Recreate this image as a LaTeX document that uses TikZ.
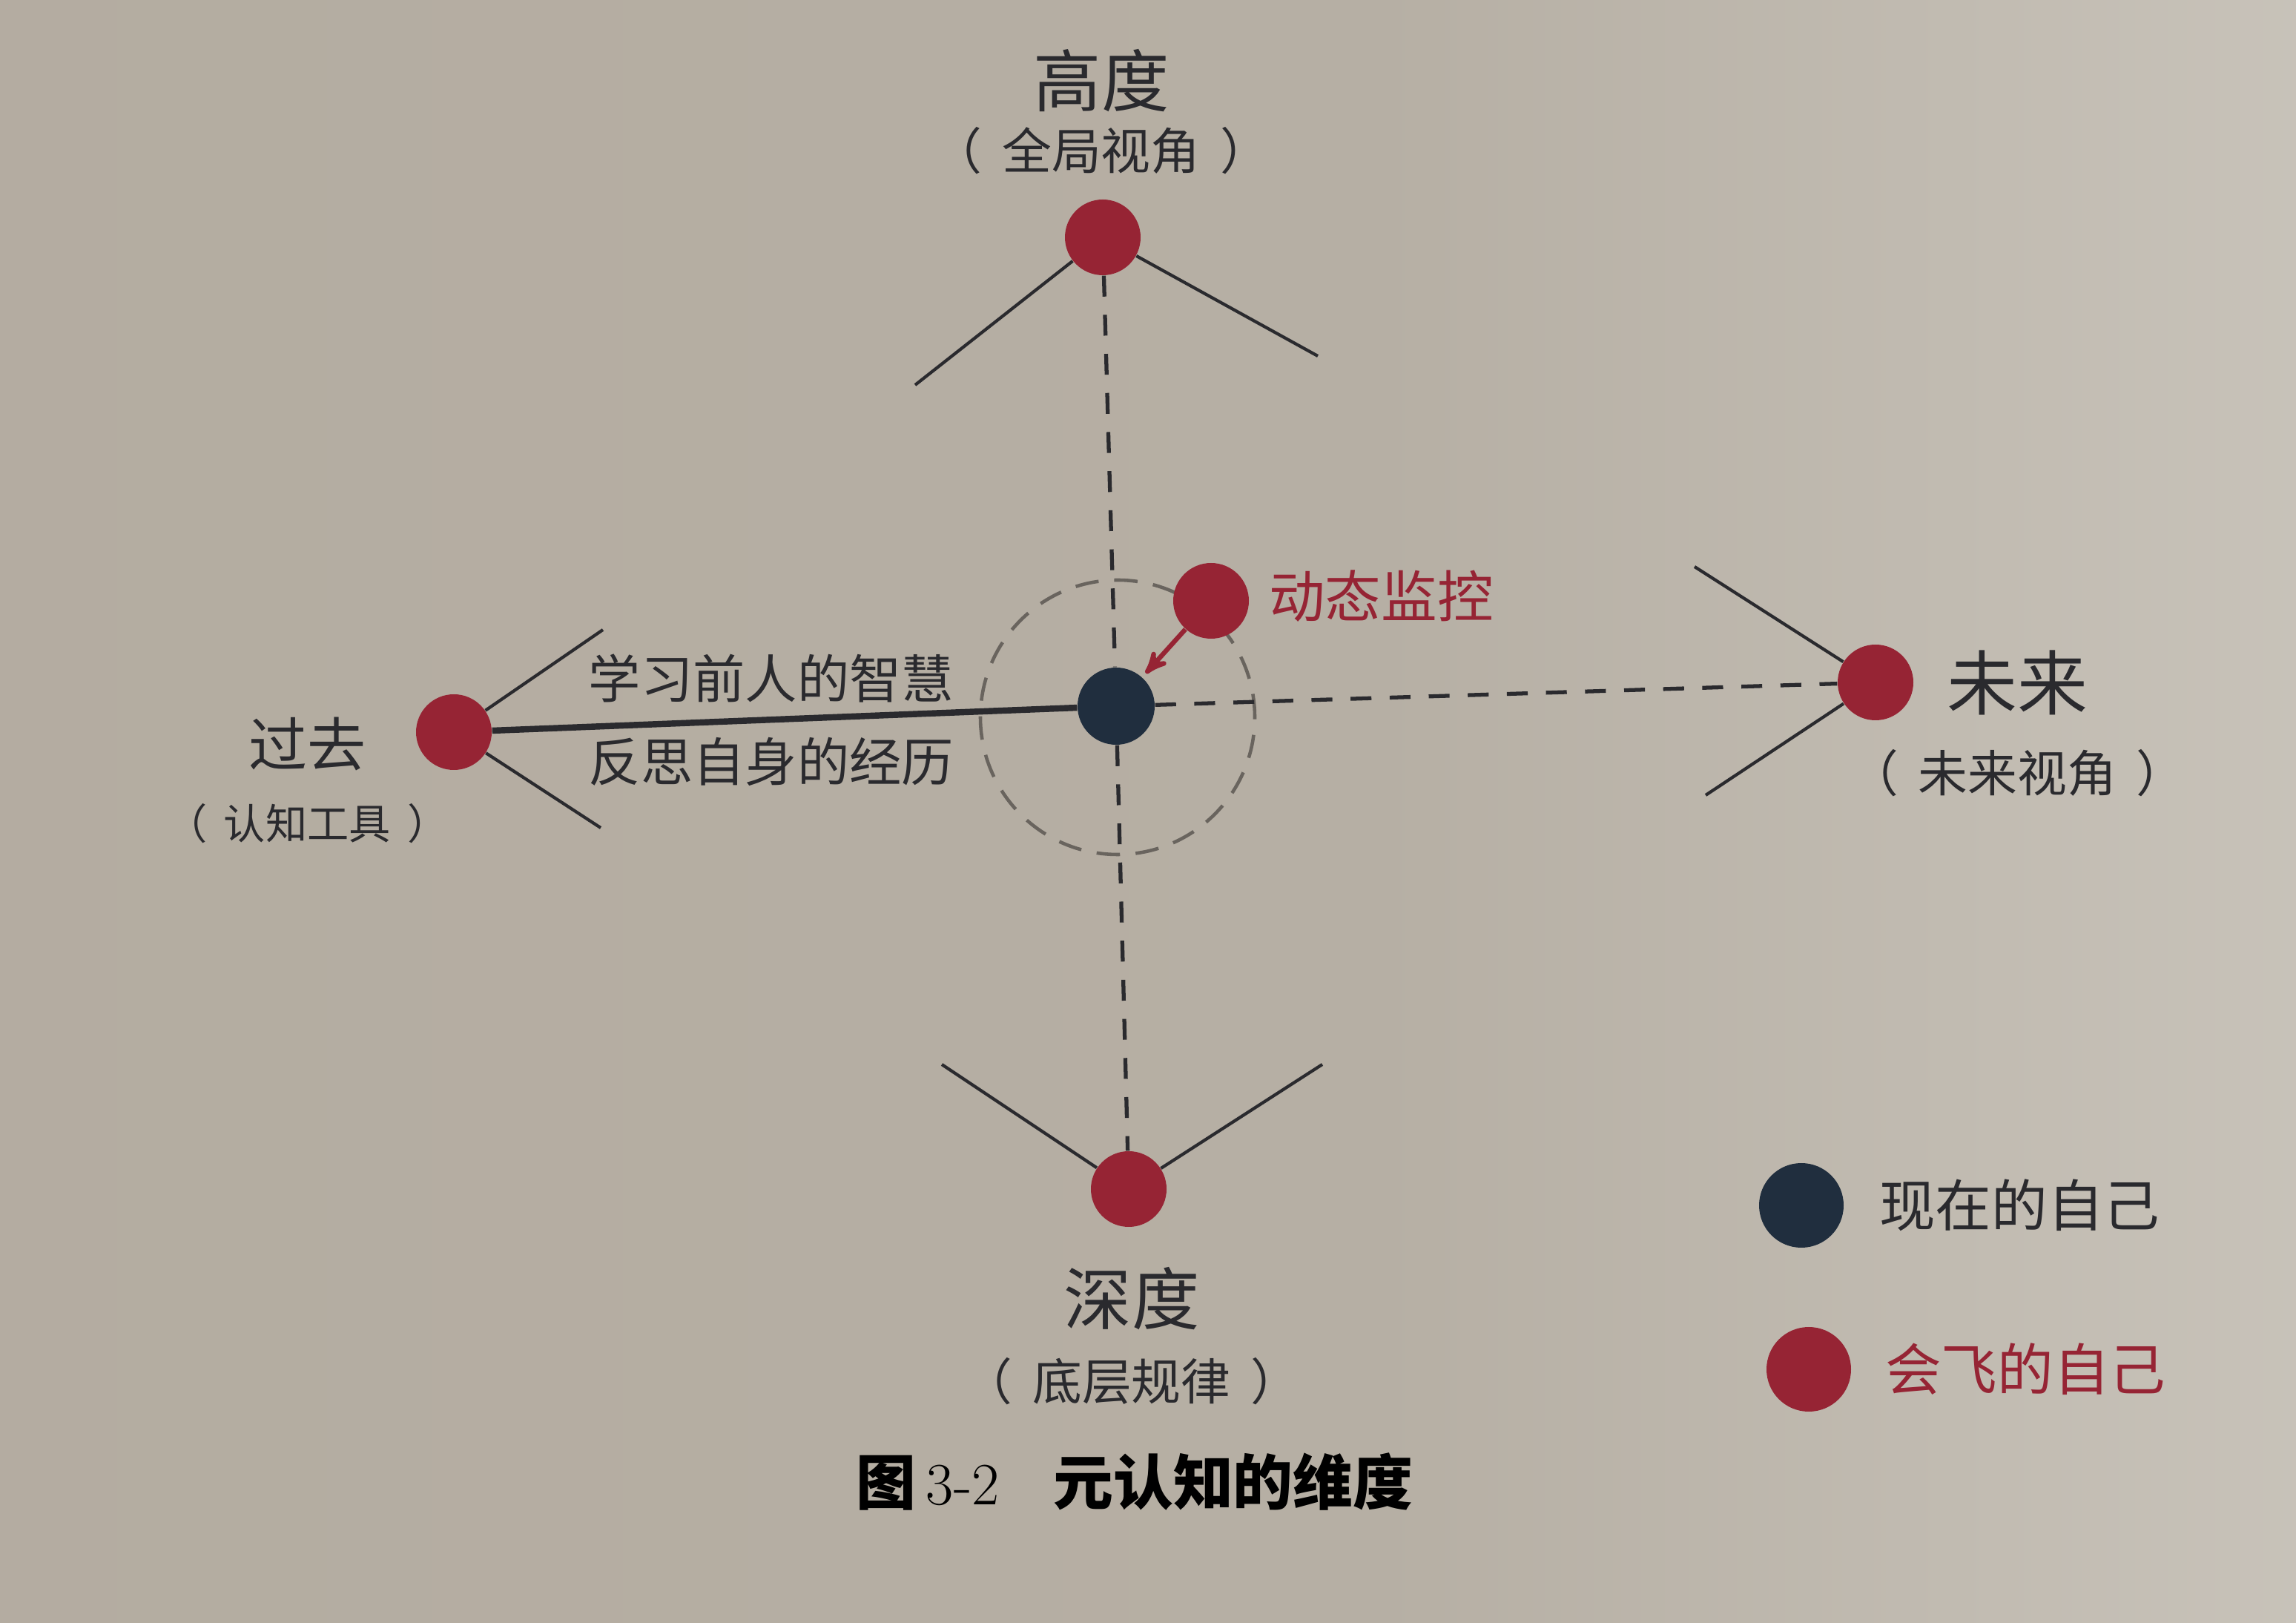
\documentclass[tikz,border=0pt]{standalone}
\usepackage{fontspec}
\usepackage{tikz}
\usetikzlibrary{arrows,positioning}
\newfontfamily\cjk{Noto Sans CJK SC}
\definecolor{flyred}{RGB}{150,36,52}
\definecolor{nowblue}{RGB}{32,46,62}
\definecolor{ink}{RGB}{42,42,46}
\definecolor{ringgray}{RGB}{105,100,94}
\definecolor{paperA}{RGB}{178,170,158}
\definecolor{paperB}{RGB}{182,175,164}
\definecolor{paperC}{RGB}{204,199,190}
\definecolor{paperD}{RGB}{230,228,222}
\pgfdeclarehorizontalshading{paper}{100bp}{color(0bp)=(paperA); color(55bp)=(paperB); color(80bp)=(paperC); color(100bp)=(paperD)}
\newcommand{\paren}[1]{（\hspace{0.4em}#1\hspace{0.4em}）}

\begin{document}
\begin{tikzpicture}[>=stealth',auto,node distance=1.1cm,
    fly/.style={circle,fill=flyred,inner sep=0pt,minimum size=1.02cm},
    self/.style={circle,fill=nowblue,inner sep=0pt,minimum size=1.04cm},
    dimlabel/.style={inner sep=0pt,text=ink,font=\cjk\fontsize{26pt}{30pt}\selectfont},
    dimnote/.style={inner sep=0pt,text=ink,font=\cjk\fontsize{19pt}{23pt}\selectfont},
    sidetext/.style={inner sep=0pt,text=ink,font=\cjk\fontsize{20pt}{24pt}\selectfont},
    legtext/.style={inner sep=0pt,font=\cjk\fontsize{21.5pt}{26pt}\selectfont},
    twig/.style={ink,line width=1.2pt},
    axis/.style={ink,line width=1.5pt,dash pattern=on 8pt off 7pt}]
  \shade[shading=paper] (0,0) rectangle (30.96,21.87);
  \useasboundingbox (0,0) rectangle (30.96,21.87);

  % dashed ring round the present self
  \coordinate (ringc) at (15.07,12.20);
  \draw[ringgray,line width=1.3pt,dash pattern=on 9pt off 6pt] (ringc) circle (1.85cm);

  \node[self] (now)     at (15.05,12.35) {};
  \node[fly]  (top)     at (14.87,18.67) {};
  \node[fly]  (bottom)  at (15.22,5.84)  {};
  \node[fly]  (past)    at (6.12,12.00)  {};
  \node[fly]  (future)  at (25.29,12.67) {};
  \node[fly]  (monitor) at (16.33,13.77) {};

  \coordinate (topL) at (12.34,16.68);
  \coordinate (topR) at (17.77,17.07);
  \coordinate (pastU) at (8.13,13.38);
  \coordinate (pastD) at (8.10,10.71);
  \coordinate (futU) at (22.85,14.23);
  \coordinate (futD) at (23.00,11.15);
  \coordinate (botL) at (12.70,7.52);
  \coordinate (botR) at (17.83,7.52);

  \draw[twig] (top) -- (topL)
              (top) -- (topR)
              (past) -- (pastU)
              (past) -- (pastD)
              (future) -- (futU)
              (future) -- (futD)
              (bottom) -- (botL)
              (bottom) -- (botR);
  \draw[axis] (top) -- (now)
              (now) -- (bottom)
              (now) -- (future);
  \draw[ink,line width=2.4pt] (past) -- (now);
  \draw[->,flyred,line width=1.8pt,shorten >=2pt] (monitor) -- (now);

  % labels
  \node[dimlabel] (toplabel) at (14.85,20.78) {高度};
  \node[dimnote]  (topnote)  [below of=toplabel,node distance=0.94cm] {\paren{全局视角}};
  \node[dimlabel,font=\cjk\fontsize{22.5pt}{27pt}\selectfont] (pastlabel) [left=0.66cm of past,yshift=-0.16cm] {过去};
  \node[dimnote,font=\cjk\fontsize{16pt}{20pt}\selectfont] (pastnote) [below of=pastlabel,node distance=1.07cm] {\paren{认知工具}};
  \node[dimlabel,font=\cjk\fontsize{27pt}{32pt}\selectfont] (futlabel) [right=0.44cm of future] {未来};
  \node[dimnote]  (futnote)  [below of=futlabel,node distance=1.22cm] {\paren{未来视角}};
  \node[dimlabel] (botlabel) at (15.26,4.36) {深度};
  \node[dimnote]  (botnote)  [below of=botlabel,node distance=1.11cm] {\paren{底层规律}};

  \node[sidetext] (learn)   at (10.40,12.73) {学习前人的智慧};
  \node[sidetext] (reflect) at (10.40,11.60) {反思自身的经历};
  \node[legtext,text=flyred] (montext) [right=0.26cm of monitor,yshift=0.06cm] {动态监控};

  % legend
  \node[self,minimum size=1.14cm] (legnow) at (24.29,5.62) {};
  \node[fly,minimum size=1.14cm]  (legfly) at (24.39,3.41) {};
  \node[legtext,text=ink]    (nowtext) [right=0.47cm of legnow] {现在的自己};
  \node[legtext,text=flyred] (flytext) [right=0.45cm of legfly] {会飞的自己};

  \node[inner sep=0pt,text=black,font=\cjk\fontsize{23pt}{28pt}\selectfont] (caption) at (15.30,1.89)
    {{\bfseries 图}\,{\rmfamily 3-2}\hspace{0.9em}{\bfseries 元认知的维度}};
\end{tikzpicture}
\end{document}
